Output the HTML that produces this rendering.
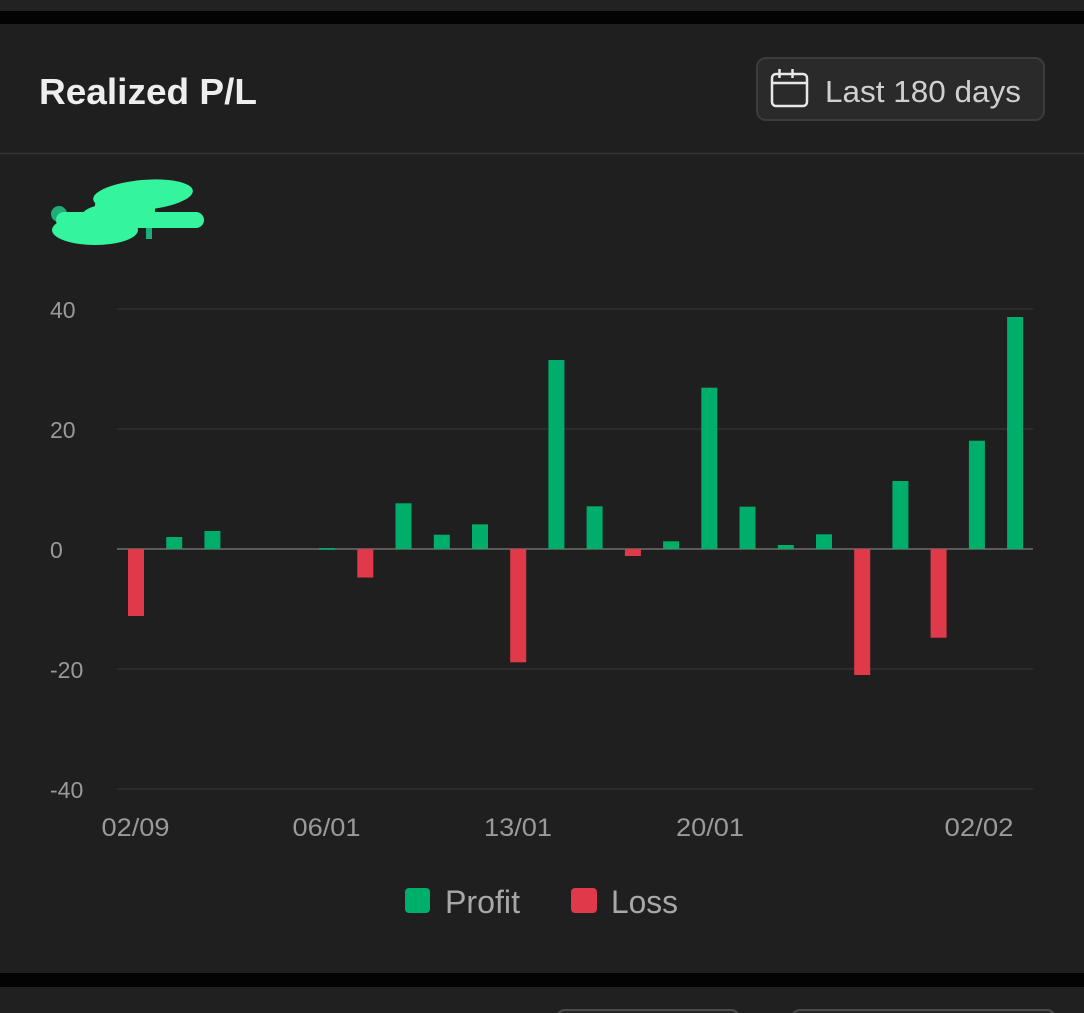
<!DOCTYPE html>
<html><head><meta charset="utf-8"><style>
html,body{margin:0;padding:0;background:#1f1f1f;}
svg{display:block;}
</style></head><body>
<svg width="1084" height="1013" viewBox="0 0 1084 1013" xmlns="http://www.w3.org/2000/svg" font-family="Liberation Sans, sans-serif">
<rect x="0" y="0" width="1084" height="1013" fill="#1f1f1f"/>
<rect x="0" y="0" width="1084" height="11" fill="#222222"/>
<rect x="0" y="11" width="1084" height="13" fill="#030303"/>
<rect x="0" y="973" width="1084" height="14" fill="#030303"/>
<rect x="0" y="987" width="1084" height="26" fill="#202020"/>
<rect x="557" y="1010" width="182" height="20" rx="8" fill="#262626" stroke="#4a4a4a" stroke-width="2"/>
<rect x="792" y="1010" width="263" height="20" rx="8" fill="#262626" stroke="#4a4a4a" stroke-width="2"/>
<line x1="0" y1="153.5" x2="1084" y2="153.5" stroke="#333333" stroke-width="1.5"/>
<text x="39" y="104" font-size="36" font-weight="bold" fill="#eeeeee" textLength="218" lengthAdjust="spacingAndGlyphs">Realized P/L</text>
<rect x="757" y="58" width="287" height="62" rx="9" fill="#2a2a2a" stroke="#3c3c3c" stroke-width="2"/>
<rect x="772" y="74" width="35" height="32" rx="4" fill="none" stroke="#e8e8e8" stroke-width="2.5"/>
<line x1="772" y1="83" x2="807" y2="83" stroke="#e8e8e8" stroke-width="2.5"/>
<line x1="779.5" y1="69" x2="779.5" y2="78" stroke="#e8e8e8" stroke-width="2.5"/>
<line x1="792.5" y1="69" x2="792.5" y2="78" stroke="#e8e8e8" stroke-width="2.5"/>
<text x="825" y="102" font-size="31" fill="#d0d0d0" textLength="196" lengthAdjust="spacingAndGlyphs">Last 180 days</text>
<g>
<circle cx="59" cy="214" r="8" fill="#1fae77"/>
<rect x="146" y="226" width="6" height="13" fill="#1fae77"/>
<ellipse cx="143" cy="195" rx="50" ry="15" transform="rotate(-5 143 195)" fill="#34f59e"/>
<rect x="95" y="195" width="60" height="25" rx="10" fill="#34f59e"/>
<path d="M64 220 L196 220" stroke="#34f59e" stroke-width="16" stroke-linecap="round"/>
<ellipse cx="95" cy="230" rx="43" ry="15" fill="#34f59e"/>
<ellipse cx="112" cy="216" rx="30" ry="12" fill="#34f59e"/>
</g>
<g stroke="#2c2c2c" stroke-width="2">
<line x1="117" y1="309" x2="1033" y2="309"/>
<line x1="117" y1="429" x2="1033" y2="429"/>
<line x1="117" y1="669" x2="1033" y2="669"/>
<line x1="117" y1="789" x2="1033" y2="789"/>
</g>
<line x1="117" y1="549" x2="1033" y2="549" stroke="#5a5a5a" stroke-width="2"/>
<g font-size="23" fill="#9a9a9a">
<text x="50" y="318">40</text>
<text x="50" y="438">20</text>
<text x="50" y="558">0</text>
<text x="50" y="678">-20</text>
<text x="50" y="798">-40</text>
</g>
<g font-size="25" fill="#9a9a9a" text-anchor="middle">
<text x="135.5" y="836" textLength="68" lengthAdjust="spacingAndGlyphs">02/09</text>
<text x="326.5" y="836" textLength="68" lengthAdjust="spacingAndGlyphs">06/01</text>
<text x="518" y="836" textLength="68" lengthAdjust="spacingAndGlyphs">13/01</text>
<text x="710" y="836" textLength="68" lengthAdjust="spacingAndGlyphs">20/01</text>
<text x="979" y="836" textLength="69" lengthAdjust="spacingAndGlyphs">02/02</text>
</g>
<g>
<rect x="128" y="549" width="16" height="67" fill="#e03a4a"/>
<rect x="166.2" y="537" width="16" height="12" fill="#00ae6b"/>
<rect x="204.4" y="531" width="16" height="18" fill="#00ae6b"/>
<rect x="319.1" y="548" width="16" height="1.5" fill="#00ae6b"/>
<rect x="357.3" y="549" width="16" height="28.5" fill="#e03a4a"/>
<rect x="395.5" y="503.3" width="16" height="45.7" fill="#00ae6b"/>
<rect x="433.8" y="534.7" width="16" height="14.3" fill="#00ae6b"/>
<rect x="472" y="524.3" width="16" height="24.7" fill="#00ae6b"/>
<rect x="510.2" y="549" width="16" height="113.3" fill="#e03a4a"/>
<rect x="548.4" y="360" width="16" height="189" fill="#00ae6b"/>
<rect x="586.6" y="506.3" width="16" height="42.7" fill="#00ae6b"/>
<rect x="624.9" y="549" width="16" height="7" fill="#e03a4a"/>
<rect x="663.1" y="541.3" width="16" height="7.7" fill="#00ae6b"/>
<rect x="701.3" y="387.7" width="16" height="161.3" fill="#00ae6b"/>
<rect x="739.5" y="506.7" width="16" height="42.3" fill="#00ae6b"/>
<rect x="777.8" y="545" width="16" height="4" fill="#00ae6b"/>
<rect x="816" y="534.3" width="16" height="14.7" fill="#00ae6b"/>
<rect x="854.2" y="549" width="16" height="126" fill="#e03a4a"/>
<rect x="892.4" y="481" width="16" height="68" fill="#00ae6b"/>
<rect x="930.6" y="549" width="16" height="88.7" fill="#e03a4a"/>
<rect x="968.9" y="440.7" width="16" height="108.3" fill="#00ae6b"/>
<rect x="1007.1" y="317" width="16" height="232" fill="#00ae6b"/>
</g>
<rect x="405" y="888" width="25" height="25" rx="4" fill="#00ae6b"/>
<text x="445" y="913" font-size="32" fill="#a8a8a8" textLength="75" lengthAdjust="spacingAndGlyphs">Profit</text>
<rect x="571" y="888" width="26" height="25" rx="4" fill="#e03a4a"/>
<text x="611" y="913" font-size="32" fill="#a8a8a8" textLength="67" lengthAdjust="spacingAndGlyphs">Loss</text>
</svg>
</body></html>
